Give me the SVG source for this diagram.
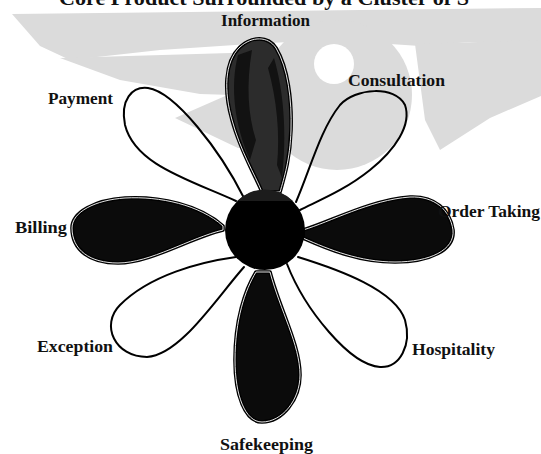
<svg xmlns="http://www.w3.org/2000/svg" xmlns:xlink="http://www.w3.org/1999/xlink" width="541" height="454" viewBox="0 0 541 454">
<style>
.lbl{font-family:"Liberation Serif","Times New Roman",serif;font-size:16px;font-weight:bold;fill:#111}
.ttl{font-family:"Liberation Serif","Times New Roman",serif;font-size:21px;font-weight:bold;fill:#111}
.dark{fill:#0b0b0b;stroke:#000;stroke-width:3.6;stroke-linejoin:round}
.inner{fill:none;stroke:#fff;stroke-width:0.9}
.loop{fill:none;stroke:#000;stroke-width:2;stroke-linecap:round}
.wm{fill:#dbdbdb}
</style>
<rect width="541" height="454" fill="#fff"/>
<g id="watermark">
<path class="wm" d="M12,14 L541,8 L541,44 L470,42 L420,46 L330,40 L250,44 L160,50 L70,60 L40,46 Z"/>
<path class="wm" d="M60,58 L262,52 L262,96 L200,94 L120,80 Z"/>
<path class="wm" d="M175,118 L262,80 L262,150 L238,148 Z"/>
<circle class="wm" cx="337" cy="95" r="75"/>
<circle cx="334" cy="64" r="20" fill="#fff"/>
<path class="wm" d="M415,44 L541,40 L541,96 L490,118 L440,150 L425,120 Z"/>
</g>
<text class="ttl" x="59" y="5" textLength="410" lengthAdjust="spacingAndGlyphs">Core Product Surrounded by a Cluster of S</text>
<defs>
<path id="pInfo" d="M262,192 C255,175 240,150 232,120 C224,92 224,62 240,47 C252,36 268,36 276,48 C288,68 292,100 291,130 C290,160 284,178 280,192 Z"/>
<path id="pOrder" d="M303,230 C330,222 370,200 410,197 C435,196 450,210 453,230 C455,250 430,262 395,262 C360,262 330,250 303,238 Z"/>
<path id="pBill" d="M223,226 C200,205 160,196 125,198 C95,200 72,212 72,228 C72,250 90,263 118,263 C150,263 190,238 223,230 Z"/>
<path id="pSafe" d="M256,272 C245,290 235,320 235,360 C235,395 245,422 262,422 C282,422 300,400 300,375 C300,345 280,310 270,272 Z"/>
</defs>
<g id="information">
<use xlink:href="#pInfo" class="dark" style="fill:#2c2c2c"/>
<path d="M238,55 C230,85 234,125 250,160 L256,140 C248,115 246,85 252,50 Z" fill="#121212"/>
<path d="M274,58 C284,92 287,135 282,178 L277,165 C280,135 277,100 268,68 Z" fill="#121212"/>
<use xlink:href="#pInfo" class="inner"/>
<text class="lbl" x="221" y="26" textLength="89" lengthAdjust="spacingAndGlyphs">Information</text>
</g>
<g id="consultation">
<path class="loop" d="M296,202 C310,170 320,130 340,105 C355,88 395,85 405,105 C412,125 395,150 370,170 C345,190 320,200 300,210"/>
<text class="lbl" x="348" y="86" textLength="97" lengthAdjust="spacingAndGlyphs">Consultation</text>
</g>
<g id="order-taking">
<use xlink:href="#pOrder" class="dark"/>
<use xlink:href="#pOrder" class="inner"/>
<text class="lbl" x="438" y="217" textLength="102" lengthAdjust="spacingAndGlyphs">Order Taking</text>
</g>
<g id="hospitality">
<path class="loop" d="M298,257 C340,270 395,290 405,320 C412,345 400,368 380,367 C350,365 305,310 287,264"/>
<text class="lbl" x="412" y="355" textLength="83" lengthAdjust="spacingAndGlyphs">Hospitality</text>
</g>
<g id="safekeeping">
<use xlink:href="#pSafe" class="dark"/>
<use xlink:href="#pSafe" class="inner"/>
<text class="lbl" x="220" y="450" textLength="93" lengthAdjust="spacingAndGlyphs">Safekeeping</text>
</g>
<g id="exception">
<path class="loop" d="M236,257 C200,262 150,275 120,305 C100,325 115,357 147,357 C180,355 215,300 244,267"/>
<text class="lbl" x="37" y="352" textLength="76" lengthAdjust="spacingAndGlyphs">Exception</text>
</g>
<g id="billing">
<use xlink:href="#pBill" class="dark"/>
<use xlink:href="#pBill" class="inner"/>
<text class="lbl" x="15" y="233" textLength="52" lengthAdjust="spacingAndGlyphs">Billing</text>
</g>
<g id="payment">
<path class="loop" d="M236,201 C190,180 135,165 125,125 C120,100 132,86 148,88 C175,92 220,150 244,198"/>
<text class="lbl" x="48" y="104" textLength="65" lengthAdjust="spacingAndGlyphs">Payment</text>
</g>
<g id="core">
<circle cx="265" cy="230" r="40" fill="#000"/>
<path d="M237,201 A40,40 0 0 1 293,201 Z" fill="#1c1c1c"/>
</g>
</svg>
